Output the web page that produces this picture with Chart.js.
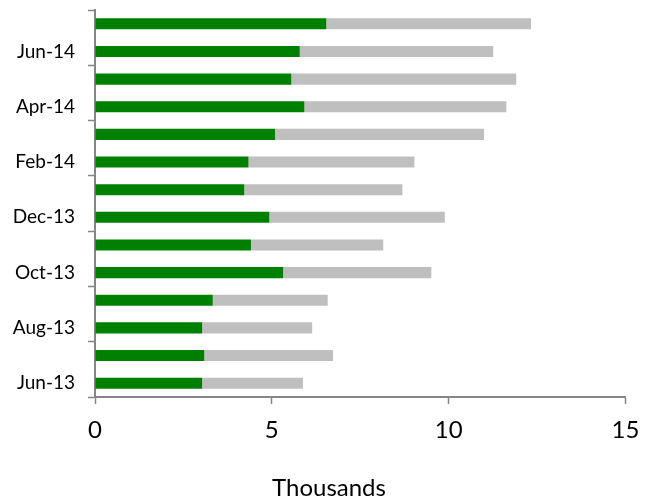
<!DOCTYPE html>
<html>
<head>
<meta charset="utf-8">
<title>Monthly bars</title>
<script src="https://cdn.jsdelivr.net/npm/chart.js@4/dist/chart.umd.min.js"></script>
<style>
    body { margin: 0; background: #ffffff; }
    #monthlyBarChart { display: block; }
</style>
</head>
<body>
<canvas id="monthlyBarChart" width="658" height="501"></canvas>
<script>
// months, oldest first (drawn bottom to top)
const months = ["Jun-13", "Jul-13", "Aug-13", "Sep-13", "Oct-13", "Nov-13", "Dec-13",
                "Jan-14", "Feb-14", "Mar-14", "Apr-14", "May-14", "Jun-14", "Jul-14"];

// values in thousands
const series1 = [3.03, 3.09, 3.03, 3.33, 5.32, 4.41, 4.93, 4.22, 4.34, 5.09, 5.92, 5.55, 5.79, 6.54];
const series2 = [2.85, 3.64, 3.11, 3.25, 4.19, 3.74, 4.96, 4.47, 4.69, 5.91, 5.71, 6.36, 5.47, 5.79];

const xTicks = [0, 5, 10, 15];

const axisGray = "#868686";
const fontFamily = "Lato, 'Open Sans', sans-serif";

function renderMonthlyBarChart() {
    const ctx = document.getElementById("monthlyBarChart");

    if (!ctx) return;

    new Chart(ctx, {
        type: "bar",
        data: {
            labels: months,
            datasets: [
                {
                    label: "Series1",
                    data: series1,
                    backgroundColor: "#008000",
                },
                {
                    label: "Series2",
                    data: series2,
                    backgroundColor: "#bfbfbf",
                }
            ]
        },
        options: {
            indexAxis: "y",
            responsive: false,
            animation: false,
            layout: {
                padding: { top: 10, right: 0, bottom: 0, left: 0 }
            },
            datasets: {
                bar: {
                    categoryPercentage: 1,
                    barPercentage: 0.4
                }
            },
            scales: {
                x: {
                    stacked: true,
                    min: xTicks[0],
                    max: xTicks[xTicks.length - 1],
                    afterBuildTicks: (scale) => {
                        scale.ticks = xTicks.map(v => ({ value: v }));
                    },
                    afterFit: (scale) => {
                        // 104px under the plot, minus the title block below
                        scale.height = 69;
                        // keep the plot off the right edge, title still spans full width
                        scale.paddingRight = 32.5;
                    },
                    border: { color: axisGray, width: 2 },
                    grid: {
                        drawOnChartArea: false,
                        tickLength: 7,
                        tickColor: axisGray,
                        tickWidth: 1.5
                    },
                    ticks: {
                        color: "#000000",
                        padding: 12,
                        font: { family: fontFamily, size: 24 }
                    }
                },
                y: {
                    stacked: true,
                    reverse: true,
                    afterFit: (scale) => {
                        scale.width = 95;
                        // no extra room for the (empty) end labels
                        scale.paddingTop = 0;
                        scale.paddingBottom = 0;
                    },
                    border: { color: axisGray, width: 2 },
                    grid: {
                        drawOnChartArea: false,
                        offset: true,
                        tickLength: 7,
                        tickWidth: 1.5,
                        tickColor: (c) => (c.type !== "tick" || c.index % 2 === 0) ? axisGray : "rgba(0,0,0,0)"
                    },
                    ticks: {
                        autoSkip: false,
                        color: "#000000",
                        padding: 13,
                        font: { family: fontFamily, size: 19 },
                        callback: function (value, index) {
                            return index % 2 === 0 ? this.getLabelForValue(value) : "";
                        }
                    }
                }
            },
            plugins: {
                legend: { display: false },
                tooltip: { enabled: false },
                title: {
                    display: true,
                    position: "bottom",
                    text: "Thousands",
                    color: "#000000",
                    padding: { top: 10, bottom: 1 },
                    font: { family: fontFamily, size: 24, weight: "normal", lineHeight: 1 }
                }
            }
        }
    });
}

document.addEventListener("DOMContentLoaded", () => {
    renderMonthlyBarChart();
});
</script>
</body>
</html>
